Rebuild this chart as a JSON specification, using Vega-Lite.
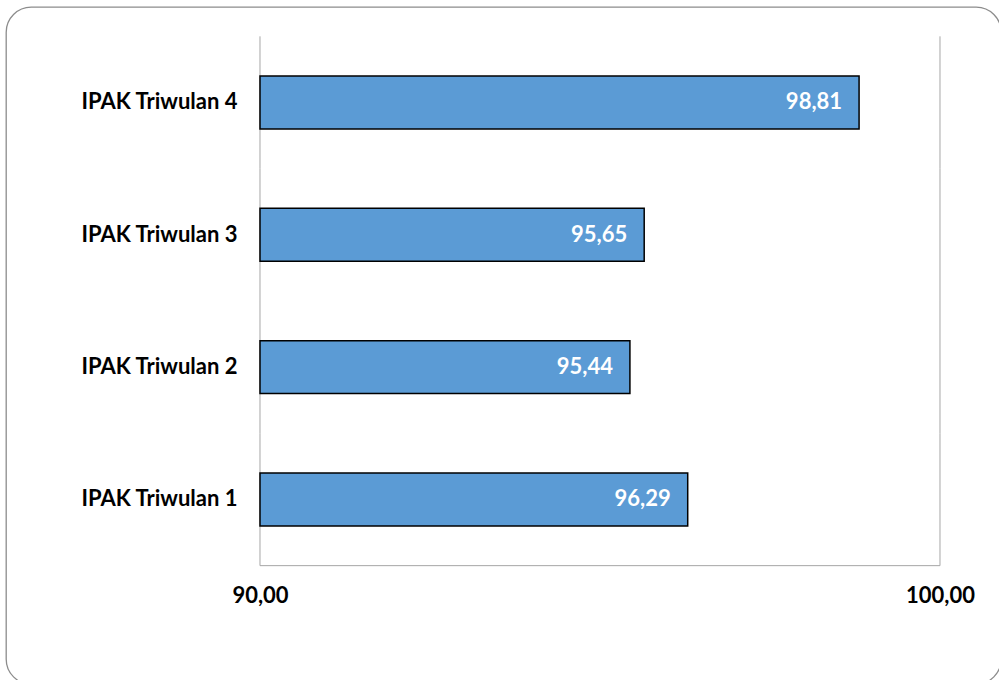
{
  "$schema": "https://vega.github.io/schema/vega-lite/v6.json",
  "width": 995,
  "height": 677,
  "autosize": {"type": "none"},
  "padding": {"left": 6, "top": 7, "right": 0, "bottom": 0},
  "background": "white",
  "data": {"values": [
    {"kategori": "IPAK Triwulan 1", "nilai": 96.29},
    {"kategori": "IPAK Triwulan 2", "nilai": 95.44},
    {"kategori": "IPAK Triwulan 3", "nilai": 95.65},
    {"kategori": "IPAK Triwulan 4", "nilai": 98.81}
  ]},
  "config": {
    "locale": {"number": {"decimal": ",", "thousands": ".", "grouping": [3], "currency": ["Rp", ""]}},
    "view": {"stroke": "#8c8c8c", "strokeWidth": 1.3, "cornerRadius": 25},
    "font": "Lato"
  },
  "layer": [
    {
      "mark": {"type": "rule", "color": "#a6a6a6", "strokeWidth": 1},
      "encoding": {
        "x": {"datum": 90, "type": "quantitative", "scale": {"domain": [86.2647, 100.8971], "nice": false, "zero": false}},
        "y": {"field": "kategori", "type": "nominal", "sort": "descending", "bandPosition": -0.75},
        "y2": {"field": "kategori", "bandPosition": 1.75}
      }
    },
    {
      "mark": {"type": "rule", "color": "#a6a6a6", "strokeWidth": 1},
      "encoding": {
        "x": {"datum": 100, "type": "quantitative"},
        "y": {"field": "kategori", "type": "nominal", "sort": "descending", "bandPosition": -0.75},
        "y2": {"field": "kategori", "bandPosition": 1.75}
      }
    },
    {
      "transform": [{"filter": "datum.kategori === 'IPAK Triwulan 1'"}],
      "mark": {"type": "rule", "color": "#a6a6a6", "strokeWidth": 1},
      "encoding": {
        "x": {"datum": 90, "type": "quantitative"},
        "x2": {"datum": 100},
        "y": {"field": "kategori", "type": "nominal", "sort": "descending", "bandPosition": 1.75}
      }
    },
    {
      "mark": {"type": "bar", "fill": "#5b9bd5", "stroke": "black", "strokeWidth": 1.5},
      "encoding": {
        "x": {
          "field": "nilai", "type": "quantitative",
          "scale": {"domain": [86.2647, 100.8971], "nice": false, "zero": false},
          "axis": {
            "values": [90, 100], "format": ".2f", "domain": false, "ticks": false, "grid": false,
            "title": null, "offset": -89, "labelPadding": 0, "labelBaseline": "middle",
            "labelFont": "Lato", "labelFontSize": 22, "labelFontWeight": "bold", "labelColor": "black",
            "labelFlush": false, "labelOverlap": false
          }
        },
        "x2": {"datum": 90},
        "y": {
          "field": "kategori", "type": "nominal", "sort": "descending",
          "scale": {"paddingInner": 0.6, "paddingOuter": 0.858, "align": 0.304},
          "axis": {
            "title": null, "domain": false, "ticks": false, "offset": -254, "labelPadding": 23,
            "labelFont": "Lato", "labelFontSize": 22, "labelFontWeight": "bold", "labelColor": "black",
            "labelLimit": 400
          }
        }
      }
    },
    {
      "mark": {"type": "text", "align": "right", "baseline": "middle", "dx": -17, "color": "white", "font": "Lato", "fontSize": 22, "fontWeight": "bold"},
      "encoding": {
        "x": {"field": "nilai", "type": "quantitative"},
        "y": {"field": "kategori", "type": "nominal", "sort": "descending"},
        "text": {"field": "nilai", "type": "quantitative", "format": ".2f"}
      }
    }
  ]
}
